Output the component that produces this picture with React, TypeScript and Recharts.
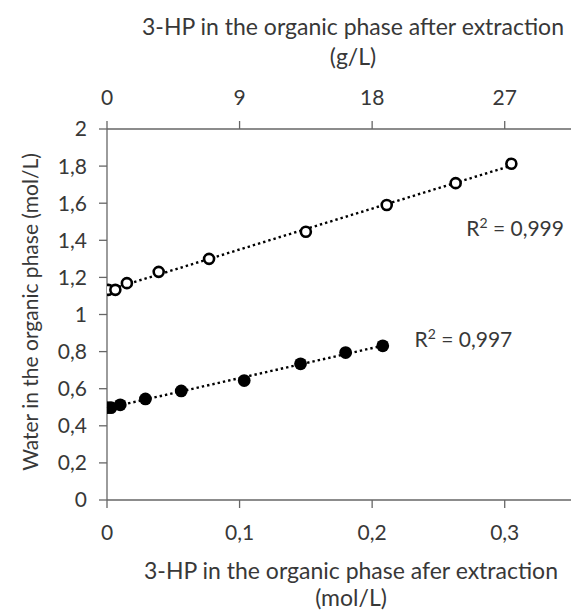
import React from 'react';
import { ScatterChart, Scatter, XAxis, YAxis, ReferenceLine, ReferenceDot, Label } from 'recharts';

const openX = [0.001, 0.0063, 0.015, 0.039, 0.077, 0.15, 0.211, 0.263, 0.305];
const openY = [1.133, 1.133, 1.169, 1.23, 1.3, 1.446, 1.59, 1.708, 1.813];
const filledX = [0.0, 0.003, 0.01, 0.029, 0.056, 0.1035, 0.146, 0.18, 0.208];
const filledY = [0.498, 0.498, 0.513, 0.545, 0.588, 0.644, 0.734, 0.795, 0.831];
const bottomTicks = [0, 0.1, 0.2, 0.3];
const topTicks = [0, 9, 18, 27];
const yTicks = [0, 0.2, 0.4, 0.6, 0.8, 1, 1.2, 1.4, 1.6, 1.8, 2];
const molarMass = 90; // g/mol, links the two x axes (0,1 mol/L = 9 g/L)
const r2Values = ['0,999', '0,997'];
const r2Pos = [
  { x: 0.271, y: 1.462 },
  { x: 0.232, y: 0.863 },
];
const topTitle = ['3-HP in the organic phase after extraction', '(g/L)'];
const bottomTitle = ['3-HP in the organic phase afer extraction', '(mol/L)'];
const yTitle = 'Water in the organic phase (mol/L)';

const openData = openX.map((x, i) => ({ x, y: openY[i] }));
const filledData = filledX.map((x, i) => ({ x, y: filledY[i] }));
const openDataGL = openX.map((x, i) => ({ x: x * molarMass, y: openY[i] }));

function fit(xs: number[], ys: number[]) {
  const n = xs.length;
  const mx = xs.reduce((a, b) => a + b, 0) / n;
  const my = ys.reduce((a, b) => a + b, 0) / n;
  let sxy = 0, sxx = 0;
  for (let i = 0; i < n; i++) {
    sxy += (xs[i] - mx) * (ys[i] - my);
    sxx += (xs[i] - mx) ** 2;
  }
  const b = sxy / sxx;
  const a = my - b * mx;
  const x0 = Math.min(...xs), x1 = Math.max(...xs);
  return [{ x: x0, y: a + b * x0 }, { x: x1, y: a + b * x1 }];
}

const openFit = fit(openX, openY);
const filledFit = fit(filledX, filledY);

const FONT = 'Lato, sans-serif';
const TXT = '#383838';
const AX = '#666666';
const TICK_FS = 21;
const TITLE_FS = 23;

const fmt = (v: number) => String(v).replace('.', ',');

const OpenDot = (p: any) => (
  <circle cx={p.cx} cy={p.cy} r={5} fill="#fff" stroke="#000" strokeWidth={2.6} />
);
const FilledDot = (p: any) => <circle cx={p.cx} cy={p.cy} r={6.4} fill="#000" />;
const NoDot = () => <g />;

const TwoLine = (lines: string[], cx: number, y1: number, y2: number) => () => (
  <text textAnchor="middle" fontFamily={FONT} fontSize={TITLE_FS} fill={TXT}>
    <tspan x={cx} y={y1}>{lines[0]}</tspan>
    <tspan x={cx} y={y2}>{lines[1]}</tspan>
  </text>
);

const R2Label = (value: string) => (props: any) => {
  const vb = props.viewBox || {};
  const x = vb.x ?? 0;
  const y = (vb.y ?? 0) + 7;
  return (
    <text x={x} y={y} fontFamily={FONT} fontSize={21} fill={TXT}>
      R
      <tspan fontSize={14} dy={-8}>2</tspan>
      <tspan dy={8}>{` = ${value}`}</tspan>
    </text>
  );
};

export default function App() {
  return (
    <div style={{ width: 572, height: 613, background: '#fff' }}>
      <style>{`body{margin:0}`}</style>
      <ScatterChart width={572} height={613} margin={{ top: 0, right: 1, bottom: 0, left: 0 }}>
        <XAxis
          xAxisId="bottom"
          orientation="bottom"
          type="number"
          dataKey="x"
          domain={[0, 0.35]}
          ticks={bottomTicks}
          tickFormatter={fmt}
          height={113}
          tickSize={8}
          tickMargin={17}
          stroke={AX}
          strokeWidth={1.3}
          tick={{ fill: TXT, fontFamily: FONT, fontSize: TICK_FS }}
          allowDataOverflow
        >
          <Label content={TwoLine(bottomTitle, 351, 579, 606)} />
        </XAxis>
        <XAxis
          xAxisId="top"
          orientation="top"
          type="number"
          dataKey="x"
          domain={[0, 31.5]}
          ticks={topTicks}
          height={129}
          tickSize={8}
          tickMargin={16}
          stroke={AX}
          strokeWidth={1.3}
          tick={{ fill: TXT, fontFamily: FONT, fontSize: TICK_FS }}
          allowDataOverflow
        >
          <Label content={TwoLine(topTitle, 353, 35, 65)} />
        </XAxis>
        <YAxis
          type="number"
          dataKey="y"
          domain={[0, 2]}
          ticks={yTicks}
          tickFormatter={fmt}
          width={107}
          tickSize={8}
          tickMargin={12}
          stroke={AX}
          strokeWidth={1.3}
          tick={{ fill: TXT, fontFamily: FONT, fontSize: TICK_FS }}
          allowDataOverflow
        >
          <Label
            content={() => (
              <text
                x={38}
                y={312}
                transform="rotate(-90 38 312)"
                textAnchor="middle"
                fontFamily={FONT}
                fontSize={21}
                fill={TXT}
              >
                {yTitle}
              </text>
            )}
          />
        </YAxis>
        <ReferenceLine
          xAxisId="bottom"
          segment={openFit}
          stroke="#000"
          strokeWidth={2.4}
          strokeDasharray="2.4 3"
          ifOverflow="visible"
        />
        <ReferenceLine
          xAxisId="bottom"
          segment={filledFit}
          stroke="#000"
          strokeWidth={2.4}
          strokeDasharray="2.4 3"
          ifOverflow="visible"
        />
        <Scatter xAxisId="top" data={openDataGL} shape={NoDot} isAnimationActive={false} />
        <Scatter xAxisId="bottom" data={filledData} shape={FilledDot} isAnimationActive={false} />
        <Scatter xAxisId="bottom" data={openData} shape={OpenDot} isAnimationActive={false} />
        {r2Pos.map((p, i) => (
          <ReferenceDot
            key={i}
            xAxisId="bottom"
            x={p.x}
            y={p.y}
            r={0}
            ifOverflow="visible"
            label={{ content: R2Label(r2Values[i]) }}
          />
        ))}
      </ScatterChart>
    </div>
  );
}
